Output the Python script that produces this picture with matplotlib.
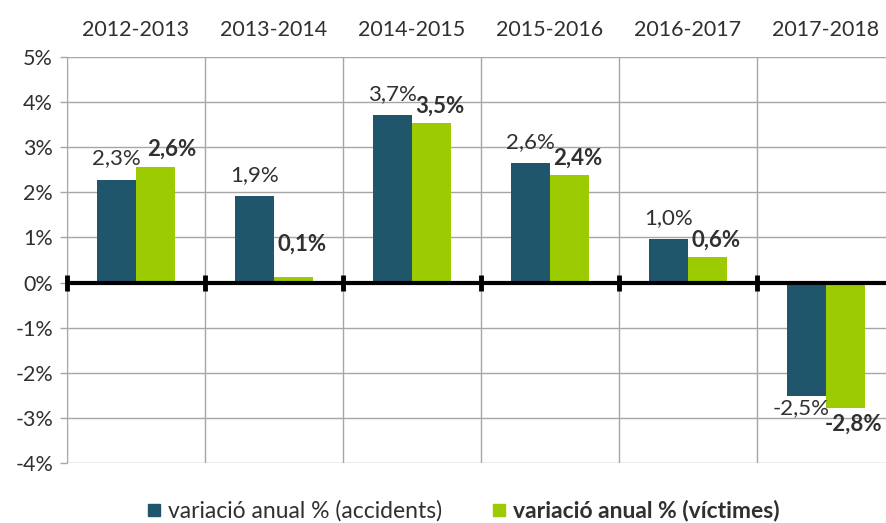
import numpy as np
import matplotlib
matplotlib.use("Agg")
import matplotlib.pyplot as plt
from matplotlib.lines import Line2D

periods = ["2012-2013", "2013-2014", "2014-2015", "2015-2016", "2016-2017", "2017-2018"]
accidents = [2.28, 1.91, 3.71, 2.64, 0.96, -2.52]
victims = [2.57, 0.12, 3.53, 2.38, 0.56, -2.78]
y_ticks = [5, 4, 3, 2, 1, 0, -1, -2, -3, -4]
series_names = ["variació anual % (accidents)", "variació anual % (víctimes)"]

dark = "#20566C"
green = "#9BCB00"
text_col = "#303030"
grid_col = "#A6A6A6"

plt.rcParams['font.family'] = ['Lato', 'DejaVu Sans']

fig = plt.figure(figsize=(8.87, 5.23), dpi=100)
ax = fig.add_axes([67 / 887, 60 / 523, 828 / 887, 406 / 523])

x = np.arange(len(periods))
w = 0.283
ax.bar(x - w / 2, accidents, w, color=dark, zorder=2)
ax.bar(x + w / 2, victims, w, color=green, zorder=2)

ax.set_xlim(-0.5, len(periods) - 0.5)
ax.set_ylim(-4, 5)

# y axis
ax.set_yticks(y_ticks)
ax.set_yticklabels([f"{t}%" for t in y_ticks], fontsize=15.5, color=text_col)
ax.tick_params(axis='y', length=5, width=1, color=grid_col, pad=5)
ax.yaxis.grid(True, color=grid_col, linewidth=1, zorder=0)

# category labels on top, vertical grid at boundaries
ax.xaxis.tick_top()
ax.set_xticks(x)
ax.set_xticklabels(periods, fontsize=15.5, color=text_col)
ax.tick_params(axis='x', which='major', length=0, pad=12)
ax.set_xticks(np.arange(len(periods) + 1) - 0.5, minor=True)
ax.tick_params(axis='x', which='minor', length=0)
ax.xaxis.grid(True, which='minor', color=grid_col, linewidth=1, zorder=0)
ax.set_axisbelow(True)

for s in ["top", "right", "bottom"]:
    ax.spines[s].set_visible(False)
ax.spines["left"].set_color(grid_col)

# thick zero line with tick marks
ax.axhline(0, color="black", linewidth=3, zorder=3)
bounds = np.arange(len(periods) + 1) - 0.5
ax.plot(bounds, np.zeros_like(bounds), linestyle="none", marker="|",
        markersize=12, markeredgewidth=3.5, color="black", zorder=3, clip_on=False)

# data labels
for i, (a, v) in enumerate(zip(accidents, victims)):
    la = f"{a:.1f}%".replace(".", ",")
    lv = f"{v:.1f}%".replace(".", ",")
    if a >= 0:
        ax.annotate(la, (i - w / 2, a), xytext=(0, 8), textcoords="offset points",
                    ha="center", va="bottom", fontsize=16, color=text_col)
    else:
        ax.annotate(la, (i - w / 2, a), xytext=(-4, -1), textcoords="offset points",
                    ha="center", va="top", fontsize=16, color=text_col)
    nudge = 12 if i == 0 else 6
    lift = 16 if i == 1 else 5
    if v >= 0:
        ax.annotate(lv, (i + w / 2, v), xytext=(nudge, lift), textcoords="offset points",
                    ha="center", va="bottom", fontsize=16, color=text_col, fontweight="bold")
    else:
        ax.annotate(lv, (i + w / 2, v), xytext=(nudge, -4), textcoords="offset points",
                    ha="center", va="top", fontsize=16, color=text_col, fontweight="bold")

handles = [Line2D([], [], linestyle="none", marker="s", markersize=9, color=dark),
           Line2D([], [], linestyle="none", marker="s", markersize=9, color=green)]
leg = fig.legend(handles, series_names, loc="center", bbox_to_anchor=(0.52, 0.023),
                 ncol=2, frameon=False, fontsize=16.5, handletextpad=0.1,
                 columnspacing=2.0, handlelength=1.0)
for t in leg.get_texts():
    t.set_color(text_col)
leg.get_texts()[1].set_fontweight("bold")

fig.savefig("out.png", dpi=100)
